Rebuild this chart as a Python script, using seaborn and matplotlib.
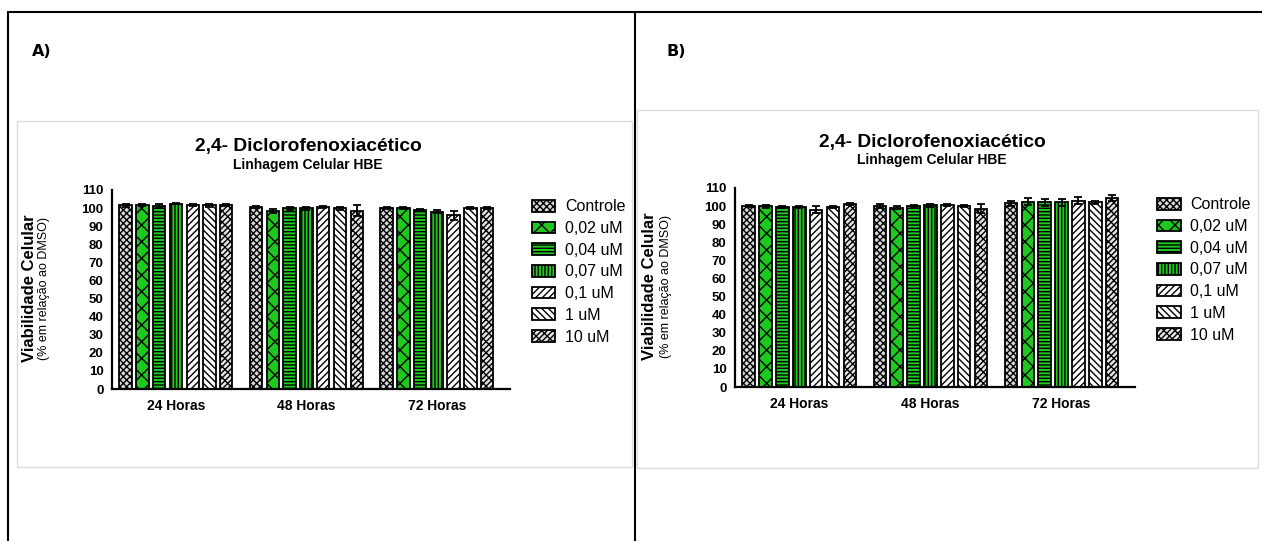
import numpy as np
import pandas as pd
import matplotlib
matplotlib.use("Agg")
import matplotlib.pyplot as plt
import seaborn as sns
from matplotlib.patches import Patch, Rectangle
from matplotlib.lines import Line2D
from matplotlib.container import BarContainer

# ---------------- data ----------------
tempos = ["24 Horas", "48 Horas", "72 Horas"]
concs = ["Controle", "0,02 uM", "0,04 uM", "0,07 uM", "0,1 uM", "1 uM", "10 uM"]

# Panel A (rows = tempos, columns = concs)
valA_24 = [101.5, 101.5, 101.0, 102.5, 101.5, 101.5, 101.5]
valA_48 = [100.5, 98.5, 100.0, 100.0, 100.5, 100.0, 98.5]
valA_72 = [100.0, 100.0, 99.0, 98.0, 96.0, 100.0, 100.0]
errA_24 = [0.8, 0.6, 1.0, 0.5, 0.6, 0.8, 0.6]
errA_48 = [0.5, 1.0, 0.8, 0.8, 0.5, 0.8, 3.0]
errA_72 = [0.6, 0.6, 0.5, 0.8, 2.5, 0.6, 0.6]

# Panel B
valB_24 = [100.0, 100.0, 99.5, 99.5, 98.0, 99.5, 101.0]
valB_48 = [100.0, 99.0, 100.0, 100.5, 100.5, 100.0, 98.5]
valB_72 = [101.5, 102.5, 102.0, 102.0, 103.0, 102.0, 104.5]
errB_24 = [0.5, 0.8, 0.8, 0.5, 2.0, 0.6, 0.6]
errB_48 = [1.0, 0.8, 0.6, 0.8, 0.5, 0.6, 2.5]
errB_72 = [1.2, 2.0, 2.0, 1.8, 2.0, 1.0, 1.5]

yticks = list(range(0, 111, 10))
title = "2,4- Diclorofenoxiacético"
subtitle = "Linhagem Celular HBE"
ylabel1 = "Viabilidade Celular"
ylabel2 = "(% em relação ao DMSO)"
panel_labels = ["A)", "B)"]

# ---------------- styles ----------------
GREEN = "#1ec81e"
facecolors = ["#d8d8d8", GREEN, GREEN, GREEN, "#ffffff", "#ffffff", "#e4e4e4"]
hatches = ["xxxxx", "xx", "-----", "|||||", "/////", "\\\\\\\\\\", "xxx///"]

sns.set_style("white")
plt.rcParams["font.family"] = ["Liberation Sans", "DejaVu Sans"]
plt.rcParams["hatch.linewidth"] = 1.0
for key in ["text.color", "axes.labelcolor", "xtick.color", "ytick.color"]:
    plt.rcParams[key] = "black"

W, H = 1262, 541
fig = plt.figure(figsize=(W / 100, H / 100), dpi=100)


def fx(px):
    return px / W


def fy(py):
    return 1 - py / H


def build_df(v24, v48, v72):
    rows = []
    for t, vals in zip(tempos, [v24, v48, v72]):
        for c, v in zip(concs, vals):
            rows.append({"tempo": t, "conc": c, "viab": v})
    return pd.DataFrame(rows)


def draw_panel(ax, df, errs):
    sns.barplot(data=df, x="tempo", y="viab", hue="conc", order=tempos,
                hue_order=concs, errorbar=None, width=0.9, gap=0.26,
                ax=ax, legend=False, linewidth=1.3, edgecolor="black")
    bar_conts = [c for c in ax.containers if isinstance(c, BarContainer)]
    for k, cont in enumerate(bar_conts):
        xs, ys, es = [], [], []
        for j, bar in enumerate(cont.patches):
            bar.set_facecolor(facecolors[k])
            bar.set_hatch(hatches[k])
            bar.set_edgecolor("black")
            xs.append(bar.get_x() + bar.get_width() / 2)
            ys.append(bar.get_height())
            es.append(errs[j][k])
        ax.errorbar(xs, ys, yerr=es, fmt="none", ecolor="black",
                    elinewidth=1.3, capsize=3, capthick=1.3, zorder=5)
    ax.set_ylim(0, 110)
    ax.set_yticks(yticks)
    ax.set_xlim(-0.49, 2.56)
    ax.set_xlabel("")
    ax.set_ylabel("")
    for s in ["top", "right"]:
        ax.spines[s].set_visible(False)
    for s in ["left", "bottom"]:
        ax.spines[s].set_linewidth(1.6)
        ax.spines[s].set_color("black")
    ax.tick_params(axis="both", direction="out", length=4, width=1.4,
                   colors="black", pad=2)
    ax.tick_params(axis="y", labelsize=9.5)
    ax.tick_params(axis="x", labelsize=10, length=5)
    for lab in ax.get_xticklabels() + ax.get_yticklabels():
        lab.set_fontweight("bold")
    handles = [Patch(facecolor=facecolors[k], edgecolor="black",
                     hatch=hatches[k], linewidth=1.3) for k in range(len(concs))]
    ax.legend(handles, concs, loc="upper left", bbox_to_anchor=(1.04, 0.985),
              frameon=False, fontsize=11.5, handlelength=1.45, handleheight=0.75,
              labelspacing=0.42, handletextpad=0.6, borderaxespad=0)


# frames
fig.add_artist(Line2D([fx(8), fx(1262)], [fy(12), fy(12)], color="black", lw=1.5))
fig.add_artist(Line2D([fx(8), fx(8)], [fy(12), 0], color="black", lw=1.5))
fig.add_artist(Line2D([fx(635), fx(635)], [fy(12), 0], color="black", lw=1.5))
fig.add_artist(Rectangle((fx(17), fy(467)), fx(632 - 17), (467 - 121) / H,
                         fill=False, edgecolor="#dcdcdc", lw=1.0))
fig.add_artist(Rectangle((fx(637), fy(468)), fx(1258 - 637), (468 - 110) / H,
                         fill=False, edgecolor="#dcdcdc", lw=1.0))

axA = fig.add_axes([fx(112), fy(389), fx(510 - 112), (389 - 190) / H])
axB = fig.add_axes([fx(735), fy(387), fx(1135 - 735), (387 - 188) / H])

draw_panel(axA, build_df(valA_24, valA_48, valA_72), [errA_24, errA_48, errA_72])
draw_panel(axB, build_df(valB_24, valB_48, valB_72), [errB_24, errB_48, errB_72])

# texts
for (lx, ly), lab in zip([(32, 52), (667, 52)], panel_labels):
    fig.text(fx(lx), fy(ly), lab, fontsize=11.5, fontweight="heavy",
             ha="left", va="center", family=["DejaVu Sans"])

for cx, ty, sy in [(308, 146, 165), (932, 143, 160)]:
    fig.text(fx(cx), fy(ty), title, fontsize=13.8, fontweight="bold",
             ha="center", va="center")
    fig.text(fx(cx), fy(sy), subtitle, fontsize=10, fontweight="bold",
             ha="center", va="center")

for x1, x2, yc in [(30, 44, 288), (650, 666, 286)]:
    fig.text(fx(x1), fy(yc), ylabel1, fontsize=12, fontweight="bold",
             rotation=90, ha="center", va="center")
    fig.text(fx(x2), fy(yc), ylabel2, fontsize=9,
             rotation=90, ha="center", va="center")

fig.savefig("out.png", dpi=100)
